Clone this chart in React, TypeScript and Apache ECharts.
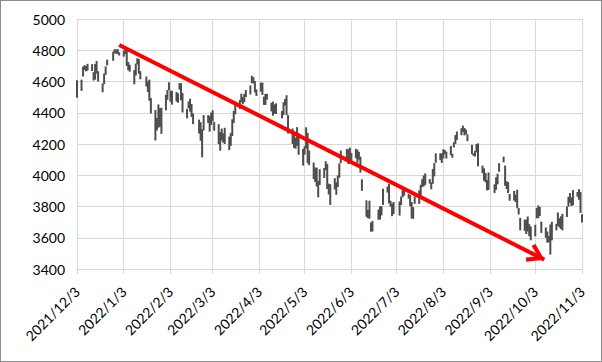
import React, { useEffect, useRef } from "react";
import * as echarts from "echarts";

const monthLabels = ["2021/12/3","2022/1/3","2022/2/3","2022/3/3","2022/4/3","2022/5/3","2022/6/3","2022/7/3","2022/8/3","2022/9/3","2022/10/3","2022/11/3"];

const tradeDates = [
  "2021/12/3","2021/12/6","2021/12/7","2021/12/8","2021/12/9","2021/12/10","2021/12/13","2021/12/14","2021/12/15","2021/12/16","2021/12/17","2021/12/20","2021/12/21","2021/12/22","2021/12/23","2021/12/27","2021/12/28","2021/12/29","2021/12/30","2021/12/31",
  "2022/1/3","2022/1/4","2022/1/5","2022/1/6","2022/1/7","2022/1/10","2022/1/11","2022/1/12","2022/1/13","2022/1/14","2022/1/18","2022/1/19","2022/1/20","2022/1/21","2022/1/24","2022/1/25","2022/1/26","2022/1/27","2022/1/28","2022/1/31",
  "2022/2/1","2022/2/2","2022/2/3","2022/2/4","2022/2/7","2022/2/8","2022/2/9","2022/2/10","2022/2/11","2022/2/14","2022/2/15","2022/2/16","2022/2/17","2022/2/18","2022/2/22","2022/2/23","2022/2/24","2022/2/25","2022/2/28",
  "2022/3/1","2022/3/2","2022/3/3","2022/3/4","2022/3/7","2022/3/8","2022/3/9","2022/3/10","2022/3/11","2022/3/14","2022/3/15","2022/3/16","2022/3/17","2022/3/18","2022/3/21","2022/3/22","2022/3/23","2022/3/24","2022/3/25","2022/3/28","2022/3/29","2022/3/30","2022/3/31",
  "2022/4/1","2022/4/4","2022/4/5","2022/4/6","2022/4/7","2022/4/8","2022/4/11","2022/4/12","2022/4/13","2022/4/14","2022/4/18","2022/4/19","2022/4/20","2022/4/21","2022/4/22","2022/4/25","2022/4/26","2022/4/27","2022/4/28","2022/4/29",
  "2022/5/2","2022/5/3","2022/5/4","2022/5/5","2022/5/6","2022/5/9","2022/5/10","2022/5/11","2022/5/12","2022/5/13","2022/5/16","2022/5/17","2022/5/18","2022/5/19","2022/5/20","2022/5/23","2022/5/24","2022/5/25","2022/5/26","2022/5/27","2022/5/31",
  "2022/6/1","2022/6/2","2022/6/3","2022/6/6","2022/6/7","2022/6/8","2022/6/9","2022/6/10","2022/6/13","2022/6/14","2022/6/15","2022/6/16","2022/6/17","2022/6/21","2022/6/22","2022/6/23","2022/6/24","2022/6/27","2022/6/28","2022/6/29","2022/6/30",
  "2022/7/1","2022/7/5","2022/7/6","2022/7/7","2022/7/8","2022/7/11","2022/7/12","2022/7/13","2022/7/14","2022/7/15","2022/7/18","2022/7/19","2022/7/20","2022/7/21","2022/7/22","2022/7/25","2022/7/26","2022/7/27","2022/7/28","2022/7/29",
  "2022/8/1","2022/8/2","2022/8/3","2022/8/4","2022/8/5","2022/8/8","2022/8/9","2022/8/10","2022/8/11","2022/8/12","2022/8/15","2022/8/16","2022/8/17","2022/8/18","2022/8/19","2022/8/22","2022/8/23","2022/8/24","2022/8/25","2022/8/26","2022/8/29","2022/8/30","2022/8/31",
  "2022/9/1","2022/9/2","2022/9/6","2022/9/7","2022/9/8","2022/9/9","2022/9/12","2022/9/13","2022/9/14","2022/9/15","2022/9/16","2022/9/19","2022/9/20","2022/9/21","2022/9/22","2022/9/23","2022/9/26","2022/9/27","2022/9/28","2022/9/29","2022/9/30",
  "2022/10/3","2022/10/4","2022/10/5","2022/10/6","2022/10/7","2022/10/10","2022/10/11","2022/10/12","2022/10/13","2022/10/14","2022/10/17","2022/10/18","2022/10/19","2022/10/20","2022/10/21","2022/10/24","2022/10/25","2022/10/26","2022/10/27","2022/10/28","2022/10/31",
  "2022/11/1","2022/11/2","2022/11/3"
];

const highs = [
  4608,4612,4695,4705,4698,4713,4711,4660,4712,4731,4666,4587,4651,4697,4740,4791,4807,4804,4808,4787,
  4797,4819,4797,4725,4707,4673,4714,4749,4744,4666,4632,4601,4612,4494,4417,4367,4453,4429,4432,4516,
  4546,4595,4542,4540,4533,4525,4590,4589,4527,4426,4472,4490,4456,4395,4356,4339,4295,4385,4385,
  4378,4401,4416,4342,4327,4276,4299,4268,4304,4247,4271,4358,4412,4465,4481,4522,4500,4521,4546,4575,4637,4628,4603,
  4549,4593,4593,4503,4521,4521,4464,4471,4453,4460,4411,4467,4488,4512,4385,4299,4278,4241,4308,4270,
  4169,4186,4307,4271,4158,4081,4049,4049,3964,4039,4046,4090,4073,3946,3943,3981,3955,3999,4076,4158,4169,
  4166,4177,4143,4169,4164,4150,4119,3974,3839,3778,3837,3698,3708,3780,3801,3802,3914,3928,3945,3837,3818,
  3829,3832,3864,3906,3918,3880,3873,3829,3796,3865,3903,3939,3975,3999,4012,3975,3954,4040,4078,4140,
  4141,4140,4167,4161,4151,4187,4138,4211,4257,4280,4301,4318,4303,4293,4262,4195,4141,4156,4200,4204,4062,4044,4015,
  3970,4018,3942,3987,4010,4077,4119,4062,3961,3956,3880,3900,3876,3907,3790,3727,3716,3716,3736,3687,3672,
  3683,3791,3807,3797,3703,3666,3640,3611,3685,3702,3689,3762,3725,3737,3753,3800,3862,3886,3859,3905,3893,
  3911,3894,3750
];

const lows = [
  4496,4540,4632,4674,4665,4670,4667,4606,4612,4651,4600,4531,4583,4643,4703,4733,4780,4778,4775,4766,
  4759,4774,4699,4671,4663,4582,4638,4710,4650,4614,4568,4533,4477,4395,4223,4287,4305,4310,4265,4416,
  4483,4544,4470,4452,4472,4464,4548,4480,4402,4364,4429,4407,4373,4327,4267,4221,4115,4287,4335,
  4279,4321,4345,4285,4199,4157,4222,4209,4200,4161,4188,4251,4335,4390,4425,4467,4455,4468,4501,4517,4589,4588,4530,
  4507,4535,4514,4450,4450,4484,4408,4381,4395,4392,4364,4386,4445,4385,4267,4200,4175,4170,4188,4131,
  4062,4132,4171,4077,4064,3975,3957,3928,3859,3938,3983,4033,3912,3877,3810,3909,3875,3925,3984,4077,4109,
  4073,4075,4098,4109,4080,4100,4017,3900,3734,3725,3722,3639,3640,3715,3717,3743,3810,3889,3820,3799,3738,
  3752,3742,3810,3859,3869,3850,3802,3722,3721,3817,3817,3860,3924,3929,3938,3946,3910,3945,3993,4080,
  4097,4079,4107,4135,4107,4128,4112,4178,4201,4226,4256,4277,4255,4261,4218,4135,4124,4120,4147,4057,4013,3965,3954,
  3903,3906,3886,3907,3942,4022,4083,3933,3912,3886,3837,3838,3828,3789,3749,3648,3644,3624,3640,3610,3584,
  3609,3724,3726,3739,3631,3600,3568,3571,3492,3584,3648,3676,3666,3656,3647,3733,3799,3824,3803,3808,3863,
  3843,3759,3698
];

const yMin = 3400;
const yMax = 5000;
const yStep = 200;

// Trend arrow (start/end as [date, value])
const arrowStart = ["2021/12/31", 4834];
const arrowEnd = ["2022/10/9", 3460];

function buildCalendar(): string[] {
  const out: string[] = [];
  const start = new Date(2021, 11, 3);
  const end = new Date(2022, 10, 3);
  for (let d = new Date(start); d <= end; d.setDate(d.getDate() + 1)) {
    out.push(`${d.getFullYear()}/${d.getMonth() + 1}/${d.getDate()}`);
  }
  return out;
}

export default function App() {
  const ref = useRef<HTMLDivElement>(null);
  useEffect(() => {
    document.body.style.margin = "0";
    if (!ref.current) return;
    const chart = echarts.init(ref.current, null, { renderer: "svg" });
    const calendar = buildCalendar();
    const isMonthTick = (_i: number, v: string) => monthLabels.indexOf(v) >= 0;
    const font = "Lato, 'Liberation Sans', sans-serif";
    chart.setOption({
      animation: false,
      grid: { left: 76, right: 19, top: 18, bottom: 92, containLabel: false },
      xAxis: {
        type: "category",
        data: calendar,
        boundaryGap: false,
        axisLine: { show: true, lineStyle: { color: "#d9d9d9", width: 1 } },
        axisTick: { show: true, interval: isMonthTick, length: 5, lineStyle: { color: "#d9d9d9" } },
        splitLine: { show: true, interval: isMonthTick, lineStyle: { color: "#d9d9d9", width: 1 } },
        axisLabel: {
          interval: isMonthTick,
          rotate: 45,
          margin: 20,
          color: "#000",
          fontSize: 14,
          fontFamily: font,
        },
      },
      yAxis: {
        type: "value",
        min: yMin,
        max: yMax,
        interval: yStep,
        axisLine: { show: false },
        axisTick: { show: false },
        splitLine: { show: true, lineStyle: { color: "#d9d9d9", width: 1 } },
        axisLabel: { color: "#000", fontSize: 14, fontFamily: font, margin: 12, formatter: (v: number) => String(v) },
      },
      series: [
        {
          type: "custom",
          data: tradeDates.map((d, i) => [d, lows[i], highs[i]]),
          encode: { x: 0, y: [1, 2] },
          renderItem: (_params: any, api: any) => {
            const x = api.value(0);
            const lo = api.coord([x, api.value(1)]);
            const hi = api.coord([x, api.value(2)]);
            return {
              type: "line",
              shape: { x1: lo[0], y1: lo[1], x2: hi[0], y2: hi[1] },
              style: { stroke: "#4d4d4d", lineWidth: 2 },
            };
          },
          z: 2,
        },
        {
          type: "line",
          data: [],
          z: 5,
          markLine: {
            silent: true,
            animation: false,
            symbol: ["none", "path://M10,0 L20,15 L16.5,17.5 L10,7 L3.5,17.5 L0,15 Z"],
            symbolSize: [20, 17.5],
            symbolOffset: [[0, 0], [0, 8.75]],
            label: { show: false },
            lineStyle: { color: "#ff0000", width: 4, type: "solid" },
            data: [[{ coord: arrowStart }, { coord: arrowEnd }]],
          },
        },
      ],
    });
    return () => chart.dispose();
  }, []);
  return (
    <div style={{ width: 602, height: 362, boxSizing: "border-box", border: "1px solid #8c8c8c", background: "#fff" }}>
      <div ref={ref} style={{ width: 600, height: 360 }} />
    </div>
  );
}
